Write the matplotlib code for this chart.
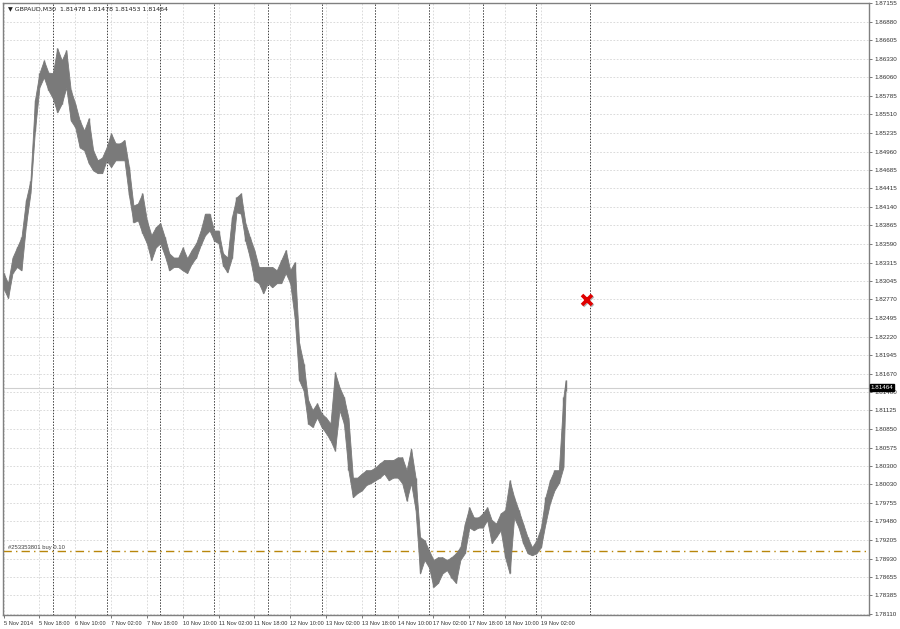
import numpy as np
import matplotlib
matplotlib.use('Agg')
import matplotlib.pyplot as plt

plt.rcParams['font.family'] = ['Liberation Sans', 'DejaVu Sans']

# GBPAUD M30, one sample per 4 bars (2 hours): high / low
highs = [1.8316, 1.8301, 1.8339, 1.8354, 1.8369, 1.8424, 1.8453, 1.8572, 1.8612, 1.8631,
         1.8613, 1.8612, 1.8649, 1.8631, 1.8646, 1.8587, 1.8567, 1.8542, 1.8527, 1.8545,
         1.8498, 1.8483, 1.8487, 1.8502, 1.8523, 1.8508, 1.8508, 1.8513, 1.8473, 1.8416,
         1.8419, 1.8434, 1.8394, 1.8372, 1.8384, 1.8390, 1.8369, 1.8345, 1.8339, 1.8339,
         1.8354, 1.8338, 1.8350, 1.8360, 1.8379, 1.8404, 1.8404, 1.8379, 1.8379, 1.8345,
         1.8339, 1.8399, 1.8428, 1.8434, 1.8390, 1.8369, 1.8350, 1.8325, 1.8325, 1.8325,
         1.8325, 1.8320, 1.8335, 1.8350, 1.8320, 1.8332, 1.8212, 1.8182, 1.8128, 1.8113,
         1.8123, 1.8108, 1.8102, 1.8093, 1.8169, 1.8147, 1.8132, 1.8102, 1.8013, 1.8013,
         1.8019, 1.8024, 1.8024, 1.8028, 1.8034, 1.8039, 1.8039, 1.8039, 1.8043, 1.8043,
         1.8024, 1.8056, 1.8013, 1.7925, 1.7920, 1.7905, 1.7891, 1.7895, 1.7895, 1.7891,
         1.7895, 1.7901, 1.7910, 1.7945, 1.7969, 1.7954, 1.7954, 1.7960, 1.7969, 1.7950,
         1.7945, 1.7960, 1.7965, 1.8009, 1.7984, 1.7965, 1.7945, 1.7925, 1.7910, 1.7920,
         1.7939, 1.7984, 1.8009, 1.8024, 1.8024, 1.8132, 1.8157]
lows = [1.8293, 1.8279, 1.8316, 1.8325, 1.8320, 1.8387, 1.8434, 1.8527, 1.8591, 1.8606,
        1.8587, 1.8575, 1.8554, 1.8567, 1.8591, 1.8542, 1.8532, 1.8502, 1.8498, 1.8479,
        1.8468, 1.8464, 1.8464, 1.8483, 1.8473, 1.8483, 1.8483, 1.8483, 1.8431, 1.8391,
        1.8394, 1.8375, 1.8360, 1.8335, 1.8354, 1.8360, 1.8342, 1.8320, 1.8325, 1.8325,
        1.8320, 1.8316, 1.8330, 1.8339, 1.8357, 1.8372, 1.8379, 1.8364, 1.8360, 1.8327,
        1.8317, 1.8339, 1.8406, 1.8404, 1.8364, 1.8339, 1.8305, 1.8301, 1.8286, 1.8301,
        1.8295, 1.8301, 1.8301, 1.8316, 1.8301, 1.8250, 1.8157, 1.8142, 1.8093, 1.8088,
        1.8102, 1.8088, 1.8079, 1.8068, 1.8053, 1.8113, 1.8093, 1.8024, 1.7984, 1.7990,
        1.7994, 1.8002, 1.8005, 1.8009, 1.8013, 1.8019, 1.8009, 1.8013, 1.8013, 1.8005,
        1.7979, 1.8005, 1.7965, 1.7871, 1.7891, 1.7880, 1.7851, 1.7857, 1.7871, 1.7876,
        1.7865, 1.7857, 1.7891, 1.7901, 1.7939, 1.7935, 1.7939, 1.7939, 1.7950, 1.7916,
        1.7925, 1.7935, 1.7895, 1.7871, 1.7954, 1.7939, 1.7916, 1.7901, 1.7898, 1.7901,
        1.7910, 1.7945, 1.7975, 1.7994, 1.8005, 1.8028, 1.8142]

price_labels = ['1.87155', '1.86880', '1.86605', '1.86330', '1.86060', '1.85785', '1.85510',
                '1.85235', '1.84960', '1.84685', '1.84415', '1.84140', '1.83865', '1.83590',
                '1.83315', '1.83045', '1.82770', '1.82495', '1.82220', '1.81945', '1.81670',
                '1.81400', '1.81125', '1.80850', '1.80575', '1.80300', '1.80030', '1.79755',
                '1.79480', '1.79205', '1.78930', '1.78655', '1.78385', '1.78110']
time_labels = ['5 Nov 2014', '5 Nov 18:00', '6 Nov 10:00', '7 Nov 02:00', '7 Nov 18:00',
               '10 Nov 10:00', '11 Nov 02:00', '11 Nov 18:00', '12 Nov 10:00', '13 Nov 02:00',
               '13 Nov 18:00', '14 Nov 10:00', '17 Nov 02:00', '17 Nov 18:00', '18 Nov 10:00',
               '19 Nov 02:00']

symbol = 'GBPAUD,M30'
ohlc_last = ['1.81478', '1.81478', '1.81453', '1.81464']
bid = 1.81464
order_price = 1.7904
order_text = '#253353801 buy 0.10'
marker_bar, marker_price = 521, 1.8276

bars_per_sample = 4
bars_per_label = 32
first_separator = 44   # 6 Nov 00:00
bars_per_day = 48

t = np.arange(len(highs)) * bars_per_sample
t[-1] = 502

fig = plt.figure(figsize=(9, 6.29), dpi=100)
ax = fig.add_axes([3/900, 14/629, 866/900, 612/629])
ax.set_xlim(-0.5, 773)
ax.set_ylim(1.78095, 1.87160)

yt = [float(s) for s in price_labels]
xt = np.arange(len(time_labels)) * bars_per_label

# grid
for y in yt:
    ax.axhline(y, color='#d4d4d4', lw=0.6, ls=(0, (2, 2)), zorder=0)
for x in xt:
    ax.axvline(x, color='#d4d4d4', lw=0.6, ls=(0, (2, 2)), zorder=0)
# day separators
for k in range(11):
    ax.axvline(first_separator + k * bars_per_day, color='#404040', lw=0.7,
               ls=(0, (1.5, 1.5)), zorder=1)

# bid line
ax.axhline(bid, color='#cfcfcf', lw=0.8, zorder=1)

# price bars
ax.fill_between(t, lows, highs, color='#7a7a7a', lw=0.6, edgecolor='#7a7a7a', zorder=3)
ax.vlines(t, lows, highs, color='#7a7a7a', lw=1.0, zorder=3)

# order line
ax.axhline(order_price, color='#b8860b', lw=1.0, ls=(0, (6, 3, 1, 3)), zorder=2)
ax.text(4, order_price + 0.0002, order_text, fontsize=4.2, color='#404040', va='bottom')

# marker
ax.plot(marker_bar + 1.2, marker_price - 0.00012, marker='x', ms=7, mew=2.6, color='#b0b0b0', zorder=4)
ax.plot(marker_bar, marker_price, marker='x', ms=7, mew=2.6, color='#e00000', zorder=5)

# header
ax.text(0.006, 0.995, '\u25bc ' + symbol + '  ' + ' '.join(ohlc_last), transform=ax.transAxes,
        fontsize=4.5, va='top', ha='left', color='#202020', family=['DejaVu Sans'])

ax.yaxis.tick_right()
ax.set_yticks(yt)
ax.set_yticklabels(price_labels, fontsize=4.5, color='#303030')
ax.set_xticks(xt)
ax.set_xticklabels(time_labels, fontsize=4.1, color='#303030', ha='left')
ax.tick_params(axis='both', length=2.5, width=0.6, pad=1.5, color='#606060')

# current price tag
ax.text(1.002, (bid - 1.78095) / (1.87160 - 1.78095), '1.81464', transform=ax.transAxes,
        fontsize=4.5, color='white', va='center', ha='left',
        bbox=dict(boxstyle='square,pad=0.15', fc='black', ec='black'))

for s in ax.spines.values():
    s.set_color('#808080')
    s.set_linewidth(1.0)

fig.savefig('out.png', dpi=100, facecolor='white')
